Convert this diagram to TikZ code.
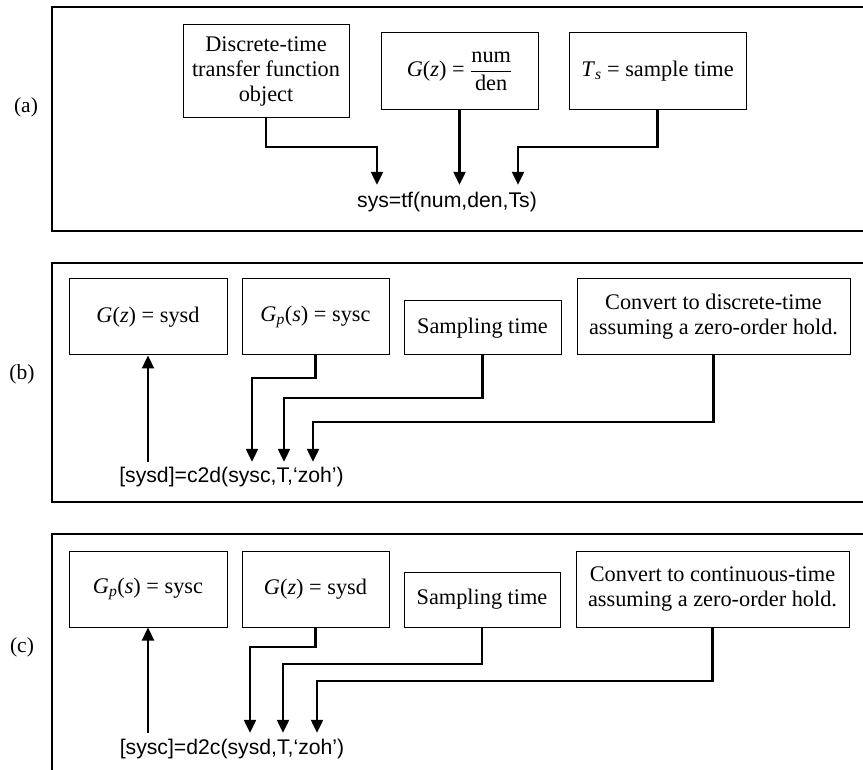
\documentclass[tikz,border=0pt]{standalone}
\usepackage{amsmath}
\usepackage{fontspec}
\setmainfont{Liberation Serif}
\newfontfamily\codefont{Liberation Sans}
\usetikzlibrary{arrows.meta}
\tikzset{
  box/.style={draw, line width=1pt, inner sep=0pt, align=center,
    font=\fontsize{22.3}{25}\selectfont},
  frame/.style={line width=1.4pt},
  arr/.style={line width=2.3pt, -{Triangle[length=13pt,width=12pt]}},
  code/.style={inner sep=0pt, font=\codefont\fontsize{21.2}{25}\selectfont},
  lbl/.style={inner sep=0pt, font=\fontsize{21.5}{25}\selectfont}
}
\begin{document}
\begin{tikzpicture}[x=1pt,y=-1pt]
\useasboundingbox (0,0) rectangle (863,770);
% frames
\draw[frame] (863,7) -- (52,7) -- (52,231) -- (863,231);
\draw[frame] (863,263) -- (52,263) -- (52,502) -- (863,502);
\draw[frame] (863,534) -- (52,534) -- (52,770);
\node[lbl] (la) at (26,107) {(a)};
\node[lbl] (lb) at (22,374) {(b)};
\node[lbl] (lc) at (22,647) {(c)};
% panel (a)
\node[box, minimum width=166pt, minimum height=93pt] (disc) at (266,71.5)
  {Discrete-time\\transfer function\\object};
\node[box, minimum width=157pt, minimum height=77pt] (gza) at (459.5,71.5)
  {\textit{G}(\textit{z}) = $\dfrac{\text{num}}{\text{den}}$};
\node[box, minimum width=177pt, minimum height=77pt] (ts) at (657.5,71.5)
  {\textit{T}$_{\textit{s}}$ = sample time};
\node[code, minimum height=34pt] (sys) at (447,202) {sys=tf(num,den,Ts)};
\draw[arr] (disc.south) -- (disc.south |- 0,147) -| (377,0 |- sys.north);
\draw[arr] (gza.south) -- (gza.south |- sys.north);
\draw[arr] (ts.south) -- (ts.south |- 0,147) -| (518,0 |- sys.north);
% panel (b)
\node[box, minimum width=158pt, minimum height=76pt] (gzb) at (148,317)
  {\textit{G}(\textit{z}) = sysd};
\node[box, minimum width=147pt, minimum height=76pt] (gpb) at (315.5,317)
  {\textit{G}$_{\textit{p}}$(\textit{s}) = sysc};
\node[box, minimum width=157pt, minimum height=54pt] (stb) at (482.5,328)
  {Sampling time};
\node[box, minimum width=273pt, minimum height=76pt] (cvb) at (713.5,317)
  {Convert to discrete-time\\assuming a zero-order hold.};
\node[code, minimum height=30pt] (txtb) at (231.5,477) {[sysd]=c2d(sysc,T,‘zoh’)};
\draw[arr] (gzb.south |- txtb.north) -- (gzb.south);
\draw[arr] (gpb.south) -- (gpb.south |- 0,378) -| (252,0 |- txtb.north);
\draw[arr] (stb.south) -- (stb.south |- 0,398) -| (284,0 |- txtb.north);
\draw[arr] (cvb.south) -- (cvb.south |- 0,422) -| (313,0 |- txtb.north);
% panel (c)
\node[box, minimum width=158pt, minimum height=76pt] (gpc) at (148,589)
  {\textit{G}$_{\textit{p}}$(\textit{s}) = sysc};
\node[box, minimum width=147pt, minimum height=76pt] (gzc) at (315.5,589)
  {\textit{G}(\textit{z}) = sysd};
\node[box, minimum width=156pt, minimum height=55pt] (stc) at (482,599.5)
  {Sampling time};
\node[box, minimum width=273pt, minimum height=76pt] (cvc) at (712.5,589)
  {Convert to continuous-time\\assuming a zero-order hold.};
\node[code, minimum height=32pt] (txtc) at (232,749) {[sysc]=d2c(sysd,T,‘zoh’)};
\draw[arr] (gpc.south |- txtc.north) -- (gpc.south);
\draw[arr] (gzc.south) -- (gzc.south |- 0,647) -| (250,0 |- txtc.north);
\draw[arr] (stc.south) -- (stc.south |- 0,664) -| (283,0 |- txtc.north);
\draw[arr] (cvc.south) -- (cvc.south |- 0,681) -| (317,0 |- txtc.north);
\end{tikzpicture}
\end{document}
